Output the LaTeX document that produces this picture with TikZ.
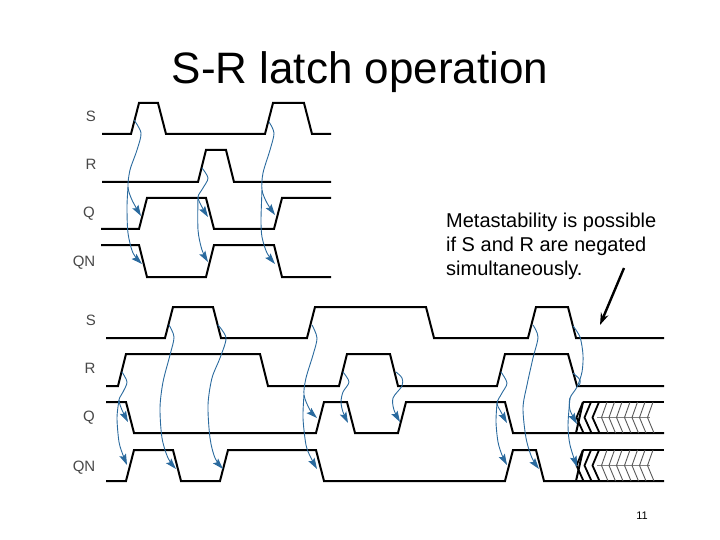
\documentclass[tikz,border=0pt]{standalone}
\usepackage{fontspec}
\setmainfont{Liberation Sans}
\usetikzlibrary{arrows.meta}
\definecolor{causeblue}{HTML}{2A6A9E}
\definecolor{labelgray}{HTML}{484848}
\tikzstyle{signal} = [line width=2pt, line join=miter, black]
\tikzstyle{cause} = [line width=0.9pt, causeblue, -{Stealth[length=11pt,width=7pt,inset=2pt]}]
\tikzstyle{causeline} = [line width=0.9pt, causeblue]
\tikzstyle{siglabel} = [text=labelgray, font=\fontsize{15}{15}\selectfont, inner sep=0pt]
\tikzstyle{arrow} = [line width=2.4pt, black, -{Stealth[length=12pt,width=8pt]}]

\begin{document}
\begin{tikzpicture}[x=1pt,y=-1pt]
\useasboundingbox (0,0) rectangle (720,540);

\node (title) [font=\fontsize{44}{44}\selectfont, inner sep=0pt, anchor=base] at (360,84) {S-R latch operation};
\node (note) [align=left, anchor=west, inner sep=0pt, font=\fontsize{20}{24}\selectfont] at (446,246) {Metastability is possible\\if S and R are negated\\simultaneously.};
\node (pagenum) [font=\fontsize{11}{11}\selectfont, inner sep=0pt] at (642,516) {11};

% upper labels
\node (topS) [siglabel] at (91,116) {S};
\node (topR) [siglabel] at (91,164) {R};
\node (topQ) [siglabel] at (89,214) {Q};
\node (topQN) [siglabel] at (84,263) {QN};
% lower labels
\node (lowS) [siglabel] at (91,320) {S};
\node (lowR) [siglabel] at (90,368) {R};
\node (lowQ) [siglabel] at (89,418) {Q};
\node (lowQN) [siglabel] at (84,468) {QN};

% upper waveforms
\draw [signal] (102,134) -- (131,134) -- (139,103) -- (158,103) -- (166,134) -- (265,134) -- (273,103) -- (304,103) -- (312,134) -- (331,134);
\draw [signal] (102,182) -- (198,182) -- (206,150) -- (226,150) -- (234,182) -- (331,182);
\draw [signal] (101,229) -- (139,229) -- (147,198) -- (206,198) -- (214,229) -- (274,229) -- (282,198) -- (331,198);
\draw [signal] (101,245) -- (139,245) -- (147,277) -- (206,277) -- (214,245) -- (274,245) -- (282,277) -- (331,277);

% lower waveforms
\draw [signal] (106,338) -- (165,338) -- (173,307) -- (213,307) -- (221,338) -- (307,338) -- (315,307) -- (426,307) -- (434,338) -- (528,338) -- (536,307) -- (568,307) -- (576,338) -- (664,338);
\draw [signal] (106,386) -- (118,386) -- (126,354) -- (260,354) -- (268,386) -- (339,386) -- (347,354) -- (390,354) -- (398,386) -- (497,386) -- (505,354) -- (568,354) -- (577,386) -- (664,386);
\draw [signal] (106,402) -- (126,402) -- (134,433) -- (316,433) -- (324,402) -- (347,402) -- (355,433) -- (398,433) -- (406,402) -- (505,402) -- (513,433) -- (664,433);
\draw [signal] (106,481) -- (126,481) -- (134,450) -- (173,450) -- (181,481) -- (220,481) -- (228,450) -- (316,450) -- (324,481) -- (505,481) -- (513,450) -- (536,450) -- (544,481) -- (664,481);

% unknown state after both inputs drop
\foreach \ytop/\ybot in {402/433,450/481} {
  \draw [signal] (583,\ytop) -- (664,\ytop);
  \draw [signal] (583,\ytop) -- (576,\ybot);
  \draw [line width=0.6pt, gray] (597,{(\ytop+\ybot)/2}) -- (650,{(\ytop+\ybot)/2});
  \foreach \xt in {607,614.5,622,630,637.5,645,653}
    \draw [line width=0.9pt, black!65] (\xt,\ytop) -- (\xt-5.5,{(\ytop+\ybot)/2}) -- (\xt+1,\ybot);
  \foreach \xt in {583,591,599}
    \draw [line width=1.8pt, black] (\xt,\ytop) -- (\xt-6.5,{(\ytop+\ybot)/2}) -- (\xt+0.5,\ybot);
}

% upper causes
\draw [cause] plot [smooth] coordinates {(134,120) (141,133) (137,150) (130,170) (128,187) (132,200) (141,216)};
\draw [cause] plot [smooth] coordinates {(128,187) (127,207) (128,233) (133,253) (142,264)};
\draw [cause] plot [smooth] coordinates {(202,168) (208,178) (203,188) (198,197) (202,207) (208,217)};
\draw [cause] plot [smooth] coordinates {(198,197) (198,230) (202,250) (208,262)};
\draw [cause] plot [smooth] coordinates {(269,122) (274,133) (270,150) (263,173) (262,190) (267,203) (275,215)};
\draw [cause] plot [smooth] coordinates {(262,190) (261,220) (262,237) (267,253) (275,264)};

% lower causes
\draw [cause] plot [smooth] coordinates {(122,372) (127,382) (123,392) (119,400) (122,410) (128,422)};
\draw [cause] plot [smooth] coordinates {(119,400) (117,418) (119,442) (123,455) (127,465)};
\draw [cause] plot [smooth] coordinates {(169,325) (174,337) (170,355) (163,382) (160,408) (162,438) (168,458) (176,469)};
\draw [cause] plot [smooth] coordinates {(218,325) (226,338) (220,358) (212,378) (208,405) (210,438) (215,458) (223,469)};
\draw [cause] plot [smooth] coordinates {(312,325) (317,338) (313,355) (306,378) (304,395) (310,410) (317,418)};
\draw [cause] plot [smooth] coordinates {(304,395) (303,418) (306,445) (311,458) (317,469)};
\draw [cause] plot [smooth] coordinates {(343,372) (349,382) (343,392) (341,402) (343,412) (348,423)};
\draw [cause] plot [smooth] coordinates {(396,372) (402,378) (402,386) (393,398) (394,410) (400,422)};
\draw [cause] plot [smooth] coordinates {(501,372) (507,383) (502,393) (497,403) (501,412) (507,423)};
\draw [cause] plot [smooth] coordinates {(497,403) (496,422) (498,442) (502,455) (507,465)};
\draw [cause] plot [smooth] coordinates {(533,325) (538,337) (533,358) (527,385) (523,408) (526,438) (532,458) (539,469)};
\draw [cause] plot [smooth] coordinates {(573,326) (580,337) (583,355) (582,372) (577,387) (570,398) (570,410) (577,424)};
\draw [causeline] plot [smooth] coordinates {(573,373) (580,380) (579,386)};
\draw [cause] plot [smooth] coordinates {(570,398) (568,425) (570,445) (577,467)};

% pointer to the moment in question
\coordinate (pointfrom) at (624,268);
\coordinate (pointto) at (600,325);
\draw [arrow] (pointfrom) -- (pointto);

\end{tikzpicture}
\end{document}
